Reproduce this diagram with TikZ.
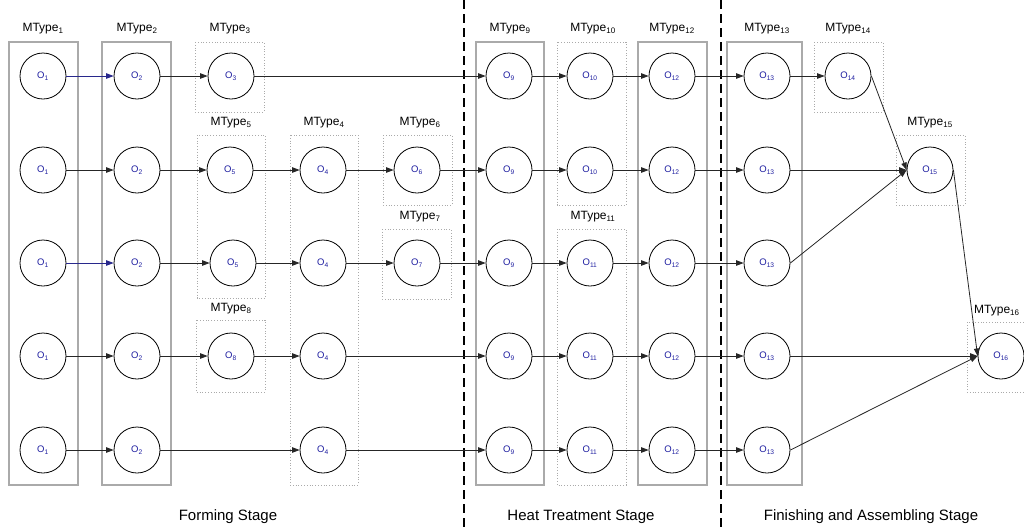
\documentclass[tikz,border=0pt]{standalone}
\usepackage{fontspec}
\setmainfont{Liberation Sans}
\usetikzlibrary{arrows.meta}
\definecolor{opblue}{RGB}{30,30,160}
\definecolor{arblue}{RGB}{40,40,140}
\definecolor{boxgray}{RGB}{170,170,170}
\begin{document}
\begin{tikzpicture}[x=1pt,y=-1pt,
  op/.style={circle,draw,line width=0.8pt,minimum size=46pt,inner sep=0pt,font=\fontsize{9.5}{10}\selectfont,text=opblue},
  solidbox/.style={draw=boxgray,line width=1.2pt},
  dotbox/.style={draw=boxgray,dotted,line width=0.8pt},
  lbl/.style={font=\fontsize{12}{14}\selectfont},
  stagelbl/.style={font=\fontsize{15}{17}\selectfont},
  ar/.style={-{Triangle[length=7.5pt,width=5.5pt]},draw=black!85,line width=0.8pt},
  arb/.style={ar,draw=arblue},
  divider/.style={line width=1.6pt,dash pattern=on 9pt off 5pt}
]
\useasboundingbox (0,0) rectangle (1024,531);
% boxes
\draw[solidbox] (9,42) rectangle (78,485);
\draw[solidbox] (102,42) rectangle (171,485);
\draw[dotbox] (195,42) rectangle (264,112);
\draw[dotbox] (197,135) rectangle (265,298);
\draw[dotbox] (290,135) rectangle (358,485);
\draw[dotbox] (383,135) rectangle (452,205);
\draw[dotbox] (382,229) rectangle (451,299);
\draw[dotbox] (196,320) rectangle (265,392);
\draw[solidbox] (476,42) rectangle (544,485);
\draw[dotbox] (557,42) rectangle (626,205);
\draw[dotbox] (557,229) rectangle (626,485);
\draw[solidbox] (638,42) rectangle (707,485);
\draw[solidbox] (727,42) rectangle (802,485);
\draw[dotbox] (814,42) rectangle (883,112);
\draw[dotbox] (896,135) rectangle (965,205);
\draw[dotbox] (967,322) rectangle (1040,392);
% box labels
\node[lbl] (t1) at (43,29) {MType\textsubscript{1}};
\node[lbl] (t2) at (137,29) {MType\textsubscript{2}};
\node[lbl] (t3) at (230,29) {MType\textsubscript{3}};
\node[lbl] (t5) at (231,123) {MType\textsubscript{5}};
\node[lbl] (t4) at (324,123) {MType\textsubscript{4}};
\node[lbl] (t6) at (420,123) {MType\textsubscript{6}};
\node[lbl] (t7) at (420,217) {MType\textsubscript{7}};
\node[lbl] (t8) at (231,309) {MType\textsubscript{8}};
\node[lbl] (t9) at (510,29) {MType\textsubscript{9}};
\node[lbl] (t10) at (593,29) {MType\textsubscript{10}};
\node[lbl] (t11) at (593,217) {MType\textsubscript{11}};
\node[lbl] (t12) at (672,29) {MType\textsubscript{12}};
\node[lbl] (t13) at (767,29) {MType\textsubscript{13}};
\node[lbl] (t14) at (848,29) {MType\textsubscript{14}};
\node[lbl] (t15) at (930,123) {MType\textsubscript{15}};
\node[lbl,anchor=west,inner sep=0pt] (t16) at (974,311) {MType\textsubscript{16}};
% dividers
\coordinate (d1a) at (464,0); \coordinate (d1b) at (464,531);
\coordinate (d2a) at (721,0); \coordinate (d2b) at (721,531);
\draw[divider] (d1a) -- (d1b);
\draw[divider] (d2a) -- (d2b);
% stage labels
\node[stagelbl] (s1) at (228,517) {Forming Stage};
\node[stagelbl] (s2) at (581,517) {Heat Treatment Stage};
\node[stagelbl] (s3) at (871,517) {Finishing and Assembling Stage};
% row 1
\node[op] (a1) at (43,76) {O\textsubscript{1}};
\node[op] (a2) at (137,76) {O\textsubscript{2}};
\node[op] (a3) at (231,76) {O\textsubscript{3}};
\node[op] (a9) at (509,76) {O\textsubscript{9}};
\node[op] (a10) at (590,76) {O\textsubscript{10}};
\node[op] (a12) at (672,76) {O\textsubscript{12}};
\node[op] (a13) at (767,76) {O\textsubscript{13}};
\node[op] (a14) at (848,76) {O\textsubscript{14}};
% row 2
\node[op] (b1) at (43,170) {O\textsubscript{1}};
\node[op] (b2) at (137,170) {O\textsubscript{2}};
\node[op] (b5) at (230,170) {O\textsubscript{5}};
\node[op] (b4) at (323,170) {O\textsubscript{4}};
\node[op] (b6) at (417,170) {O\textsubscript{6}};
\node[op] (b9) at (509,170) {O\textsubscript{9}};
\node[op] (b10) at (590,170) {O\textsubscript{10}};
\node[op] (b12) at (672,170) {O\textsubscript{12}};
\node[op] (b13) at (767,170) {O\textsubscript{13}};
\node[op] (o15) at (930,170) {O\textsubscript{15}};
% row 3
\node[op] (c1) at (43,263) {O\textsubscript{1}};
\node[op] (c2) at (137,263) {O\textsubscript{2}};
\node[op] (c5) at (233,263) {O\textsubscript{5}};
\node[op] (c4) at (323,263) {O\textsubscript{4}};
\node[op] (c7) at (417,263) {O\textsubscript{7}};
\node[op] (c9) at (509,263) {O\textsubscript{9}};
\node[op] (c11) at (590,263) {O\textsubscript{11}};
\node[op] (c12) at (672,263) {O\textsubscript{12}};
\node[op] (c13) at (767,263) {O\textsubscript{13}};
% row 4
\node[op] (d1) at (43,356) {O\textsubscript{1}};
\node[op] (d2) at (137,356) {O\textsubscript{2}};
\node[op] (d8) at (231,356) {O\textsubscript{8}};
\node[op] (d4) at (323,356) {O\textsubscript{4}};
\node[op] (d9) at (509,356) {O\textsubscript{9}};
\node[op] (d11) at (590,356) {O\textsubscript{11}};
\node[op] (d12) at (672,356) {O\textsubscript{12}};
\node[op] (d13) at (767,356) {O\textsubscript{13}};
\node[op] (o16) at (1001,356) {O\textsubscript{16}};
% row 5
\node[op] (e1) at (43,450) {O\textsubscript{1}};
\node[op] (e2) at (137,450) {O\textsubscript{2}};
\node[op] (e4) at (323,450) {O\textsubscript{4}};
\node[op] (e9) at (509,450) {O\textsubscript{9}};
\node[op] (e11) at (590,450) {O\textsubscript{11}};
\node[op] (e12) at (672,450) {O\textsubscript{12}};
\node[op] (e13) at (767,450) {O\textsubscript{13}};
% arrows row 1
\draw[arb] (a1) -- (a2);
\draw[ar] (a2) -- (a3);
\draw[ar] (a3) -- (a9);
\draw[ar] (a9) -- (a10);
\draw[ar] (a10) -- (a12);
\draw[ar] (a12) -- (a13);
\draw[ar] (a13) -- (a14);
\draw[ar] (a14.east) -- (o15.west);
% row 2
\draw[ar] (b1) -- (b2);
\draw[ar] (b2) -- (b5);
\draw[ar] (b5) -- (b4);
\draw[ar] (b4) -- (b6);
\draw[ar] (b6) -- (b9);
\draw[ar] (b9) -- (b10);
\draw[ar] (b10) -- (b12);
\draw[ar] (b12) -- (b13);
\draw[ar] (b13) -- (o15.west);
% row 3
\draw[arb] (c1) -- (c2);
\draw[ar] (c2) -- (c5);
\draw[ar] (c5) -- (c4);
\draw[ar] (c4) -- (c7);
\draw[ar] (c7) -- (c9);
\draw[ar] (c9) -- (c11);
\draw[ar] (c11) -- (c12);
\draw[ar] (c12) -- (c13);
\draw[ar] (c13.east) -- (o15.west);
% row 4
\draw[ar] (d1) -- (d2);
\draw[ar] (d2) -- (d8);
\draw[ar] (d8) -- (d4);
\draw[ar] (d4) -- (d9);
\draw[ar] (d9) -- (d11);
\draw[ar] (d11) -- (d12);
\draw[ar] (d12) -- (d13);
\draw[ar] (d13) -- (o16.west);
% row 5
\draw[ar] (e1) -- (e2);
\draw[ar] (e2) -- (e4);
\draw[ar] (e4) -- (e9);
\draw[ar] (e9) -- (e11);
\draw[ar] (e11) -- (e12);
\draw[ar] (e12) -- (e13);
\draw[ar] (e13.east) -- (o16.west);
% O15 to O16
\draw[ar] (o15.east) -- (o16.west);
\end{tikzpicture}
\end{document}
